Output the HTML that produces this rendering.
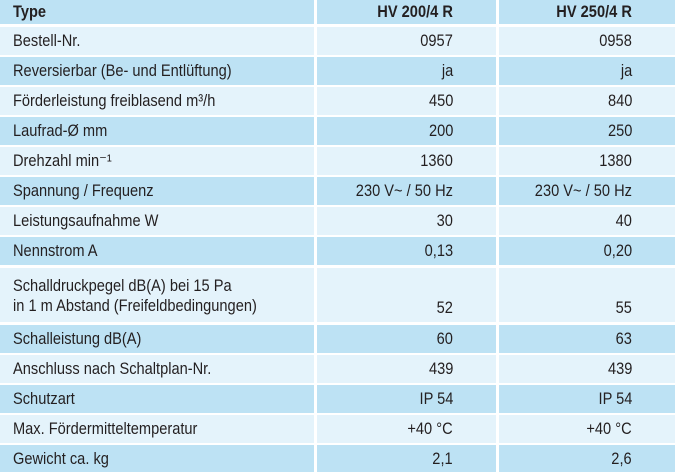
<!DOCTYPE html>
<html><head><meta charset="utf-8"><style>
body{margin:0;width:675px;height:472px;background:#fff;overflow:hidden;font-family:"Liberation Sans Narrow","Liberation Sans",sans-serif;font-size:17px;color:#231f20}
.c{position:absolute;box-sizing:border-box;display:flex;align-items:center;white-space:nowrap}
.c span{display:inline-block;transform:scaleX(0.86)}
.l{padding-left:13px}
.l span{transform-origin:left center}
.r{justify-content:flex-end;padding-right:43px}
.r span{transform-origin:right center}
.d{background:#bde2f4}.w{background:#e4f3fb}
.h{font-weight:bold}
.t{align-items:flex-end;padding-bottom:4px}
</style></head><body>
<div id="tbl"></div>
<script>
const labels=["Type","Bestell-Nr.","Reversierbar (Be- und Entlüftung)","Förderleistung freiblasend m³/h","Laufrad-Ø mm","Drehzahl min⁻¹","Spannung / Frequenz","Leistungsaufnahme W","Nennstrom A","Schalldruckpegel dB(A) bei 15 Pa<br>in 1 m Abstand (Freifeldbedingungen)","Schalleistung dB(A)","Anschluss nach Schaltplan-Nr.","Schutzart","Max. Fördermitteltemperatur","Gewicht ca. kg"];
const colA=["HV 200/4 R","0957","ja","450","200","1360","230 V~ / 50 Hz","30","0,13","52","60","439","IP 54","+40 °C","2,1"];
const colB=["HV 250/4 R","0958","ja","840","250","1380","230 V~ / 50 Hz","40","0,20","55","63","439","IP 54","+40 °C","2,6"];
const tops=[0,27,57,87,117,147,177,207,237,268,325,355,385,415,445];
const hs=[24,28,28,28,28,28,28,28,28,54,28,28,28,28,27];
const cols=[[0,314],[317,179],[499,176]];
const root=document.getElementById('tbl');
for(let i=0;i<labels.length;i++){
  const vals=[labels[i],colA[i],colB[i]];
  for(let j=0;j<3;j++){
    const el=document.createElement('div');
    
    
    el.className='c '+(i%2===0?'d':'w')+' '+(j===0?'l':'r')+(i===0?' h':'')+(i===9?' t':'');
    el.style.left=cols[j][0]+'px';el.style.width=cols[j][1]+'px';
    el.style.top=tops[i]+'px';el.style.height=hs[i]+'px';
    if(i===9&&j===0){el.style.lineHeight='20px';el.style.paddingBottom='6px';}
    el.innerHTML='<span>'+vals[j]+'</span>';
    root.appendChild(el);
  }
}
</script>
</body></html>
